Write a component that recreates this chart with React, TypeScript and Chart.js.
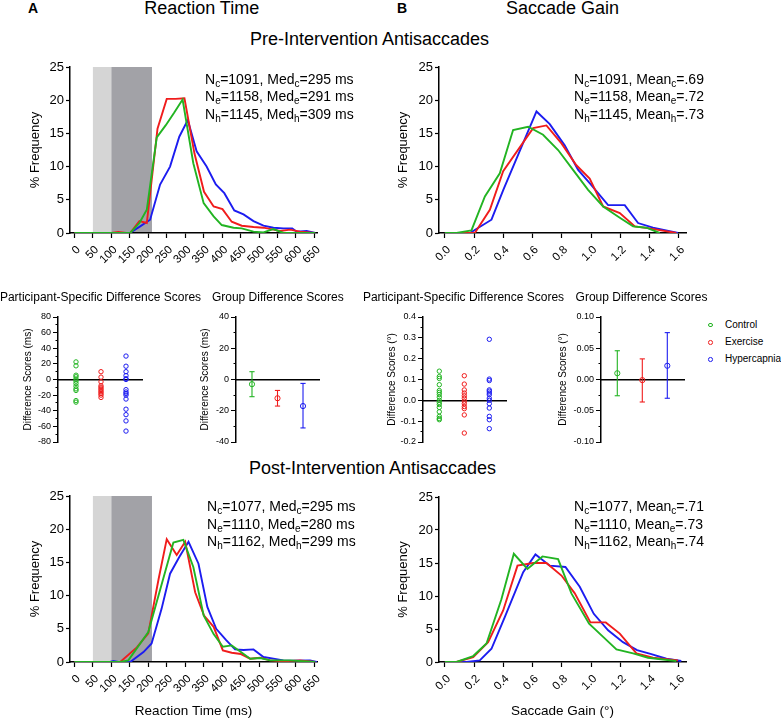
import React, { useEffect, useRef } from 'react';
import { Chart, registerables } from 'chart.js';

Chart.register(...registerables);

const FONT = '"Liberation Sans", Arial, Helvetica, sans-serif';
Chart.defaults.font.family = FONT;
Chart.defaults.color = '#000';

const COLORS = ['#22b422', '#f01c1c', '#1c1cf0'];
const groupNames = ['Control', 'Exercise', 'Hypercapnia'];
const groupSubs = ['c', 'e', 'h'];

// ---------- histogram data: [x, % frequency] ----------
const rtPreControl = [[0,0],[151,0],[176,1.5],[196,3.5],[223,14.4],[247,16.2],[270,18.1],[293,20.1],[322,10.5],[350,4.5],[377,2.5],[399,1.2],[431,0.8],[453,0.7],[485,0.2],[512,0.1],[539,0.6],[566,0],[652,0]];
const rtPreExercise = [[0,0],[100,0],[119,0.15],[140,0],[151,0],[176,1.8],[196,1.5],[225,15.7],[250,20.2],[274,20.2],[298,20.3],[325,12],[351,6.2],[377,4],[401,3.6],[426,1.7],[453,1.1],[485,0.9],[512,0.8],[539,0.5],[557,0.3],[584,0.5],[611,0.2],[652,0]];
const rtPreHypercapnia = [[0,0],[150,0],[178,1],[205,2],[232,7.3],[259,10],[284,14.5],[307,17],[331,12.3],[358,10],[383,7.3],[406,6],[433,3.4],[458,2.8],[485,1.8],[512,1.1],[539,0.8],[566,0.7],[590,0.7],[602,0.2],[629,0.3],[652,0]];

const gainPreControl = [[0,0],[0.08,0],[0.182,0.4],[0.274,5.5],[0.376,9],[0.467,15.5],[0.57,16],[0.672,14.8],[0.775,12.5],[0.877,9.5],[0.98,6.5],[1.083,4],[1.197,2.3],[1.288,1],[1.379,0.8],[1.47,0]];
const gainPreExercise = [[0,0],[0.205,0],[0.308,3.5],[0.399,9.3],[0.604,15.8],[0.695,16.2],[0.798,13.5],[0.9,10.2],[0.991,8.2],[1.083,4],[1.197,3],[1.3,1],[1.4,0.7],[1.584,0]];
const gainPreHypercapnia = [[0,0],[0.171,0],[0.319,2],[0.4,6.5],[0.627,18.3],[0.718,16.4],[0.82,13.2],[0.912,9.5],[0.991,7.5],[1.117,4.2],[1.231,4.2],[1.322,1.5],[1.424,0.8],[1.595,0]];

const rtPostControl = [[0,0],[124,0],[146,0.25],[200,4.5],[268,18],[295,18.4],[322,14.3],[350,7],[377,4.2],[402,2.3],[426,2.5],[451,1.5],[476,0.5],[503,0.6],[530,0.25],[584,0.25],[652,0]];
const rtPostExercise = [[0,0],[124,0],[169,2.2],[200,4.3],[228,12.5],[250,18.5],[277,16.1],[300,18.1],[327,10.5],[351,7],[377,5.3],[402,1.75],[426,1.4],[451,1.2],[476,0.5],[503,0.65],[530,0.25],[566,0.1],[611,0.25],[652,0]];
const rtPostHypercapnia = [[0,0],[96,0],[106,0.15],[118,0],[151,0],[187,1.5],[209,2.8],[236,8],[259,13.3],[284,15.8],[309,18.1],[336,14.8],[360,8.3],[384,5],[411,3.3],[435,1.9],[458,1.8],[485,1.9],[512,0.75],[539,0.5],[566,0.25],[593,0.2],[638,0.25],[657,0]];

const gainPostControl = [[0,0],[0.08,0],[0.194,0.9],[0.285,2.8],[0.387,9.5],[0.472,16.4],[0.565,14.1],[0.668,16],[0.775,15.6],[0.866,10.4],[0.987,5.8],[1.083,3.8],[1.174,1.9],[1.288,1.3],[1.39,0.65],[1.584,0.15]];
const gainPostExercise = [[0,0],[0.08,0],[0.194,0.75],[0.296,3],[0.399,7.8],[0.497,14.6],[0.604,15],[0.695,15],[0.798,13.1],[0.889,10.4],[0.996,6],[1.101,6],[1.197,4.3],[1.311,1.3],[1.424,0.65],[1.595,0.25]];
const gainPostHypercapnia = [[0,0],[0.148,0],[0.239,0.25],[0.319,2],[0.41,6.8],[0.536,13.6],[0.62,16.3],[0.718,14.6],[0.825,14.4],[0.923,11.4],[1.019,7.3],[1.117,4.8],[1.219,3],[1.315,1.8],[1.413,1.2],[1.516,0.5],[1.618,0.15]];

// shaded latency bands (ms)
const lightBand = [50, 100];
const darkBand = [100, 210];

// summary stats
const nPre = [1091, 1158, 1145];
const medPre = [295, 291, 309];
const meanPre = ['.69', '.72', '.73'];
const nPost = [1077, 1110, 1162];
const medPost = [295, 280, 299];
const meanPost = ['.71', '.73', '.74'];

// ---------- difference scores ----------
const rtDiffControl = [22.5, 17.5, 5.5, 3.5, 0.5, -2, -5, -8.5, -12, -14, -27, -29];
const rtDiffExercise = [10, 3, -3, -8, -10, -12, -14, -16, -18, -20, -23];
const rtDiffHypercapnia = [30, 17, 10, 5, 1, 0, -13, -16, -18, -20, -25, -38, -45, -53, -66];
const gainDiffControl = [0.14, 0.114, 0.105, 0.075, 0.047, 0.038, 0.028, 0.015, 0, -0.01, -0.02, -0.034, -0.055, -0.077, -0.087, -0.093];
const gainDiffExercise = [0.118, 0.078, 0.05, 0.035, 0.022, 0.01, -0.004, -0.016, -0.03, -0.04, -0.07, -0.157];
const gainDiffHypercapnia = [0.293, 0.102, 0.095, 0.05, 0.044, 0.035, 0.027, 0.01, 0, -0.016, -0.037, -0.077, -0.093, -0.136];

const rtGroupMean = [-3, -12, -17];
const rtGroupLow = [-11, -17, -31];
const rtGroupHigh = [5, -7, -2.5];
const gainGroupMean = [0.01, -0.001, 0.022];
const gainGroupLow = [-0.026, -0.036, -0.03];
const gainGroupHigh = [0.046, 0.033, 0.075];

// ---------- helpers ----------
const toXY = (s: number[][]) => s.map(([x, y]) => ({ x, y }));

const shadePlugin = {
  id: 'shade',
  beforeDraw(chart: any, _args: any, opts: any) {
    const bands = (opts && opts.bands) || [];
    if (!bands.length) return;
    const { ctx, chartArea, scales } = chart;
    ctx.save();
    for (const b of bands) {
      const x1 = scales.x.getPixelForValue(b.from);
      const x2 = scales.x.getPixelForValue(b.to);
      ctx.fillStyle = b.color;
      ctx.fillRect(x1, chartArea.top, x2 - x1, chartArea.bottom - chartArea.top);
    }
    ctx.restore();
  },
};

const border = { display: true, color: '#000', width: 1.5 };

function histConfig(p: any) {
  const { series, xMin, xMax, xStep, decimals, cw, ch, area, yTitleX, xTitle, xTitleY, bands } = p;
  return {
    type: 'line',
    data: {
      datasets: series.map((s: number[][], i: number) => ({
        label: groupNames[i],
        data: toXY(s),
        borderColor: COLORS[i],
        borderWidth: 1.9,
        pointRadius: 0,
        tension: 0,
        fill: false,
      })),
    },
    options: {
      responsive: false,
      animation: false,
      events: [],
      layout: { padding: { left: 0, top: area.t, right: cw - area.r, bottom: 0 } },
      plugins: { legend: { display: false }, tooltip: { enabled: false }, shade: { bands: bands || [] } },
      scales: {
        x: {
          type: 'linear',
          min: xMin,
          max: xMax,
          afterFit: (s: any) => { s.height = ch - area.b; },
          border,
          grid: { display: true, drawOnChartArea: false, drawTicks: true, tickLength: 5, tickColor: '#000', tickWidth: 1.2 },
          ticks: {
            stepSize: xStep, includeBounds: false, autoSkip: false, minRotation: 45, maxRotation: 45,
            padding: 5, labelOffset: 4, font: { size: 11.5 }, color: '#000',
            callback: (v: any) => Number(v).toFixed(decimals),
          },
          title: xTitle
            ? { display: true, text: xTitle, font: { size: 13.5 }, color: '#000', padding: { top: 0, bottom: xTitleY - 8.1 } }
            : { display: false },
        },
        y: {
          type: 'linear',
          min: 0,
          max: 25,
          afterFit: (s: any) => { s.width = area.l; },
          border,
          grid: { display: true, drawOnChartArea: false, drawTicks: true, tickLength: 4, tickColor: '#000', tickWidth: 1.2 },
          ticks: { stepSize: 5, font: { size: 13 }, padding: 2, color: '#000' },
          title: { display: true, text: '% Frequency', font: { size: 13 }, color: '#000', padding: { top: yTitleX - 7.8, bottom: 0 } },
        },
      },
    },
    plugins: [shadePlugin],
  };
}

function isMult(v: number, m: number) {
  const r = v / m;
  return Math.abs(r - Math.round(r)) < 1e-6;
}

function dotConfig(p: any) {
  const { datasets, xMin, xMax, yMin, yMax, step, major, decimals, cw, ch, area, title, titleX } = p;
  return {
    type: 'scatter',
    data: { datasets },
    options: {
      responsive: false,
      animation: false,
      events: [],
      layout: { padding: { left: 0, top: area.t, right: cw - area.r, bottom: ch - area.b } },
      plugins: { legend: { display: false }, tooltip: { enabled: false } },
      scales: {
        x: {
          type: 'linear',
          min: xMin,
          max: xMax,
          position: { y: 0 },
          border,
          grid: { display: false },
          ticks: { display: false },
        },
        y: {
          type: 'linear',
          min: yMin,
          max: yMax,
          afterFit: (s: any) => { s.width = area.l; },
          border,
          grid: {
            display: true, drawOnChartArea: false, drawTicks: true, tickLength: 5, tickColor: '#000', tickWidth: 1,
            tickBorderDash: (ctx: any) => (ctx.tick && isMult(ctx.tick.value, major) ? [] : [0, 2.5, 10, 0]),
          },
          ticks: {
            stepSize: step, autoSkip: false, includeBounds: false, padding: 2, font: { size: 9 }, color: '#000',
            callback: (v: any) => (isMult(Number(v), major) ? Number(v).toFixed(decimals) : ''),
          },
          title: { display: true, text: title, font: { size: 10 }, color: '#000', padding: { top: titleX - 6, bottom: 0 } },
        },
      },
    },
  };
}

function participantSets(groups: number[][]) {
  return groups.map((vals, i) => ({
    label: groupNames[i],
    data: vals.map((y) => ({ x: i + 1, y })),
    pointStyle: 'circle',
    pointRadius: 2.2,
    pointBorderWidth: 1,
    borderColor: COLORS[i],
    backgroundColor: 'rgba(0,0,0,0)',
  }));
}

function groupSets(mean: number[], low: number[], high: number[]) {
  const sets: any[] = [];
  mean.forEach((m, i) => {
    sets.push({
      label: groupNames[i] + ' mean',
      data: [{ x: i + 1, y: m }],
      pointStyle: 'circle',
      pointRadius: 2.6,
      pointBorderWidth: 1,
      borderColor: COLORS[i],
      backgroundColor: 'rgba(0,0,0,0)',
    });
    sets.push({
      label: groupNames[i] + ' CI',
      data: [{ x: i + 1, y: low[i] }, { x: i + 1, y: high[i] }],
      showLine: true,
      borderColor: COLORS[i],
      borderWidth: 1.1,
      pointStyle: 'line',
      pointRadius: 2.6,
      pointBorderWidth: 1.1,
      pointBorderColor: COLORS[i],
      backgroundColor: COLORS[i],
    });
  });
  return sets;
}

function ChartBox({ left, top, width, height, config }: any) {
  const ref = useRef<HTMLCanvasElement>(null);
  useEffect(() => {
    const chart = new Chart(ref.current as HTMLCanvasElement, config);
    return () => chart.destroy();
  }, []);
  return (
    <canvas
      ref={ref}
      width={width}
      height={height}
      style={{ position: 'absolute', left, top, width, height }}
    />
  );
}

const txt: React.CSSProperties = { position: 'absolute', fontFamily: FONT, color: '#000', whiteSpace: 'nowrap' };

function Centered({ cx, top, size, bold, children, lh }: any) {
  return (
    <div style={{ ...txt, left: cx - 200, width: 400, textAlign: 'center', top, fontSize: size, lineHeight: lh + 'px', fontWeight: bold ? 'bold' : 'normal' }}>
      {children}
    </div>
  );
}

const subStyle: React.CSSProperties = { fontSize: 10, verticalAlign: '-3px', lineHeight: 0 };

function Stats({ left, centers, n, stat, vals, unit }: any) {
  return (
    <>
      {centers.map((c: number, i: number) => (
        <div key={i} style={{ ...txt, left, top: c - 8, fontSize: 14, lineHeight: '16px' }}>
          N<span style={subStyle}>{groupSubs[i]}</span>={n[i]}, {stat}
          <span style={subStyle}>{groupSubs[i]}</span>={vals[i]}{unit}
        </div>
      ))}
    </>
  );
}

export default function App() {
  const bands = [
    { from: lightBand[0], to: lightBand[1], color: '#d5d5d5' },
    { from: darkBand[0], to: darkBand[1], color: '#a2a2a7' },
  ];

  const tl = histConfig({
    series: [rtPreControl, rtPreExercise, rtPreHypercapnia], xMin: -12, xMax: 657, xStep: 50, decimals: 0,
    cw: 390, ch: 230, area: { l: 70, t: 17, r: 317, b: 183 }, yTitleX: 35, bands,
  });
  const tr = histConfig({
    series: [gainPreControl, gainPreExercise, gainPreHypercapnia], xMin: -0.04, xMax: 1.65, xStep: 0.2, decimals: 1,
    cw: 391, ch: 230, area: { l: 49, t: 17, r: 296, b: 183 }, yTitleX: 13,
  });
  const bl = histConfig({
    series: [rtPostControl, rtPostExercise, rtPostHypercapnia], xMin: -12, xMax: 657, xStep: 50, decimals: 0,
    cw: 390, ch: 239, area: { l: 70, t: 16, r: 317, b: 182 }, yTitleX: 35, bands,
    xTitle: 'Reaction Time (ms)', xTitleY: 8,
  });
  const br = histConfig({
    series: [gainPostControl, gainPostExercise, gainPostHypercapnia], xMin: -0.04, xMax: 1.65, xStep: 0.2, decimals: 1,
    cw: 391, ch: 239, area: { l: 49, t: 17, r: 296, b: 182 }, yTitleX: 13,
    xTitle: 'Saccade Gain (°)', xTitleY: 8,
  });

  const p1 = dotConfig({
    datasets: participantSets([rtDiffControl, rtDiffExercise, rtDiffHypercapnia]),
    xMin: 0.28, xMax: 3.64, yMin: -80, yMax: 80, step: 10, major: 20, decimals: 0,
    cw: 180, ch: 155, area: { l: 58, t: 17, r: 142, b: 142 }, title: 'Difference Scores (ms)', titleX: 28,
  });
  const p2 = dotConfig({
    datasets: groupSets(rtGroupMean, rtGroupLow, rtGroupHigh),
    xMin: 0.373, xMax: 3.627, yMin: -40, yMax: 40, step: 10, major: 20, decimals: 0,
    cw: 170, ch: 155, area: { l: 56, t: 17, r: 139, b: 142 }, title: 'Difference Scores (ms)', titleX: 25.7,
  });
  const p3 = dotConfig({
    datasets: participantSets([gainDiffControl, gainDiffExercise, gainDiffHypercapnia]),
    xMin: 0.348, xMax: 3.668, yMin: -0.2, yMax: 0.4, step: 0.05, major: 0.1, decimals: 1,
    cw: 170, ch: 155, area: { l: 63, t: 17, r: 146, b: 142 }, title: 'Difference Scores (°)', titleX: 32,
  });
  const p4 = dotConfig({
    datasets: groupSets(gainGroupMean, gainGroupLow, gainGroupHigh),
    xMin: 0.348, xMax: 3.668, yMin: -0.1, yMax: 0.1, step: 0.025, major: 0.05, decimals: 2,
    cw: 160, ch: 155, area: { l: 61, t: 17, r: 144, b: 142 }, title: 'Difference Scores (°)', titleX: 23.3,
  });

  const legendY = [325, 342.3, 359.3];

  return (
    <div style={{ position: 'absolute', left: 0, top: 0, width: 781, height: 719, background: '#fff', overflow: 'hidden', fontFamily: FONT }}>
      <div style={{ ...txt, left: 28, top: 0, fontSize: 14, lineHeight: '16px', fontWeight: 'bold' }}>A</div>
      <div style={{ ...txt, left: 397, top: 0, fontSize: 14, lineHeight: '16px', fontWeight: 'bold' }}>B</div>
      <Centered cx={201.7} top={-1.6} size={18} lh={20}>Reaction Time</Centered>
      <Centered cx={562.5} top={-1.6} size={18} lh={20}>Saccade Gain</Centered>
      <Centered cx={369.5} top={29.3} size={18} lh={20}>Pre-Intervention Antisaccades</Centered>
      <Centered cx={372.5} top={458} size={18} lh={20}>Post-Intervention Antisaccades</Centered>

      <ChartBox left={0} top={50} width={390} height={230} config={tl} />
      <ChartBox left={390} top={50} width={391} height={230} config={tr} />
      <ChartBox left={0} top={480} width={390} height={239} config={bl} />
      <ChartBox left={390} top={480} width={391} height={239} config={br} />

      <ChartBox left={0} top={300} width={180} height={155} config={p1} />
      <ChartBox left={180} top={300} width={170} height={155} config={p2} />
      <ChartBox left={360} top={300} width={170} height={155} config={p3} />
      <ChartBox left={540} top={300} width={160} height={155} config={p4} />

      <Centered cx={100.5} top={289.8} size={12} lh={14}>Participant-Specific Difference Scores</Centered>
      <Centered cx={277.8} top={289.8} size={12} lh={14}>Group Difference Scores</Centered>
      <Centered cx={463.5} top={289.8} size={12} lh={14}>Participant-Specific Difference Scores</Centered>
      <Centered cx={641.5} top={289.8} size={12} lh={14}>Group Difference Scores</Centered>

      {groupNames.map((g, i) => (
        <React.Fragment key={g}>
          <div style={{ position: 'absolute', left: 710.7 - 2.3, top: legendY[i] - 2.3, width: 2.6, height: 2.6, border: `1px solid ${COLORS[i]}`, borderRadius: '50%' }} />
          <div style={{ ...txt, left: 725, top: legendY[i] - 6.5, fontSize: 10, lineHeight: '12px' }}>{g}</div>
        </React.Fragment>
      ))}

      <Stats left={205} centers={[78.5, 96, 113.5]} n={nPre} stat="Med" vals={medPre} unit=" ms" />
      <Stats left={574} centers={[78.5, 96, 113.5]} n={nPre} stat="Mean" vals={meanPre} unit="" />
      <Stats left={207} centers={[506, 523.5, 541]} n={nPost} stat="Med" vals={medPost} unit=" ms" />
      <Stats left={574} centers={[506, 523.5, 541]} n={nPost} stat="Mean" vals={meanPost} unit="" />
    </div>
  );
}
